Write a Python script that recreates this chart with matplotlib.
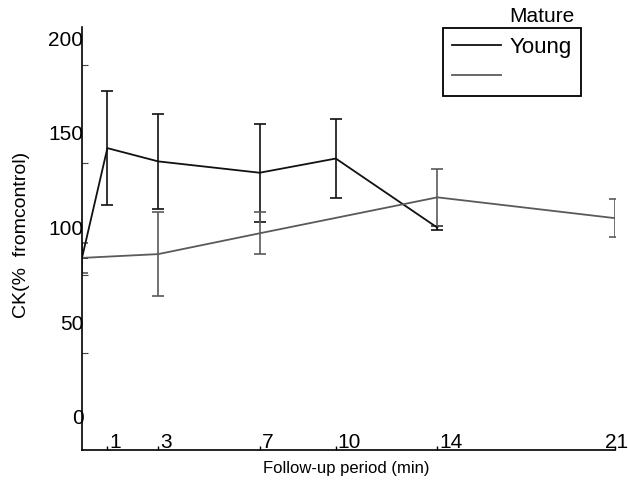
import matplotlib
matplotlib.use("Agg")
import matplotlib.pyplot as plt
import matplotlib.transforms as mtransforms

plt.rcParams["font.family"] = ["Liberation Sans", "DejaVu Sans"]

# data
young_days = [0, 1, 3, 7, 10, 14]
young_ck = [84, 142, 135, 129, 136.5, 100]
young_err = [0, 30, 25, 26, 21, 1]

mature_days = [0, 3, 7, 14, 21]
mature_ck = [84, 86, 97, 116, 105]
mature_err = [8, 22, 11, 15, 10]

xtick_days = [1, 3, 7, 10, 14, 21]
ytick_vals = [0, 50, 100, 150, 200]
ytick_minor = [34, 75, 134, 186]

fig = plt.figure(figsize=(6.28, 4.87), dpi=100)
ax = fig.add_axes([82 / 628, 1 - 450 / 487, 533 / 628, 423 / 487])

young = ax.errorbar(young_days, young_ck, yerr=young_err, color="#111111",
                    lw=1.3, elinewidth=1.2, capsize=4, capthick=1.2)
mature = ax.errorbar(mature_days, mature_ck, yerr=mature_err, color="#5a5a5a",
                     lw=1.3, elinewidth=1.2, capsize=4, capthick=1.2)

ax.set_xlim(0, 21)
ax.set_ylim(-17.5, 206)

for side in ["top", "right"]:
    ax.spines[side].set_visible(False)
for side in ["left", "bottom"]:
    ax.spines[side].set_linewidth(1.2)

ax.set_yticks(ytick_vals)
ax.set_yticks(ytick_minor, minor=True)
ax.tick_params(axis="y", which="major", length=0, pad=-1, labelsize=15)
ax.tick_params(axis="y", which="minor", direction="in", length=4, width=0.8,
               color="#444444")

ax.set_xticks(xtick_days)
ax.set_xticklabels([str(d) for d in xtick_days])
ax.tick_params(axis="x", direction="in", length=3, width=1, pad=-12,
               labelsize=15)
shift = mtransforms.ScaledTranslation(2 / 100, 0, fig.dpi_scale_trans)
labels = ax.get_xticklabels()
for lbl in labels:
    lbl.set_horizontalalignment("left")
    lbl.set_transform(lbl.get_transform() + shift)
labels[-1].set_horizontalalignment("center")

ax.set_xlabel("Follow-up period (min)", fontsize=12)
ax.xaxis.set_label_coords(0.495, -0.026)
ax.set_ylabel("CK(%  fromcontrol)", fontsize=14)
ax.yaxis.set_label_coords(-0.098, 0.508)

leg = ax.legend([young.lines[0], mature.lines[0]], ["Young", ""],
                loc="upper left", bbox_to_anchor=(443 / 628, 1 - 28 / 487),
                bbox_transform=fig.transFigure, borderaxespad=0,
                fontsize=16, handlelength=2.2, handletextpad=0.4,
                labelspacing=0.38, borderpad=0.4, fancybox=False,
                framealpha=1, edgecolor="black")
leg.get_frame().set_linewidth(1.3)
fig.text(509 / 628, 1 - 17 / 487, "Mature", fontsize=15, va="center")

fig.savefig("out.png", dpi=100)
